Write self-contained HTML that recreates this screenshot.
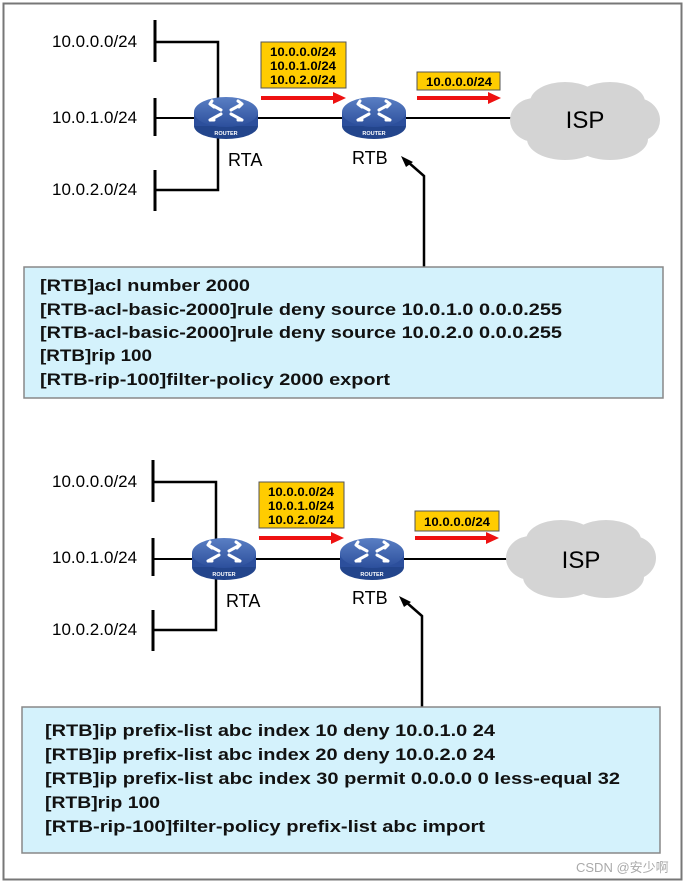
<!DOCTYPE html>
<html><head><meta charset="utf-8"><style>
html,body{margin:0;padding:0;background:#fff;}
svg{display:block;}
text{font-family:"Liberation Sans",Arial,sans-serif;}
</style></head><body>
<svg width="688" height="884" viewBox="0 0 688 884" xmlns="http://www.w3.org/2000/svg">
<defs>
<linearGradient id="rt" x1="0" y1="0" x2="0" y2="1"><stop offset="0" stop-color="#5a7fc4"/><stop offset="1" stop-color="#2c4f9c"/></linearGradient>
<g id="router">
  <ellipse cx="0" cy="8" rx="32" ry="13" fill="#23458c"/>
  <rect x="-32" y="-6" width="64" height="14" fill="#2c4f9c"/>
  <ellipse cx="0" cy="-6" rx="32" ry="15" fill="url(#rt)"/>
  <g stroke="#fff" stroke-width="3" fill="none" stroke-linecap="round">
    <path d="M-16,-14 L-5,-8 M-16,-14 L-14,-17 M-16,-14 L-12,-11"/>
    <path d="M16,-14 L5,-8 M16,-14 L12,-17 M16,-14 L13,-11"/>
    <path d="M-16,2 L-5,-4 M-16,2 L-12,2"/>
    <path d="M16,2 L5,-4 M16,2 L12,2"/>
  </g>
  <text x="0" y="17" font-size="5.5" font-weight="bold" fill="#fff" text-anchor="middle">ROUTER</text>
</g>
<g id="cloud">
  <g fill="#d4d4d4">
    <ellipse cx="-50" cy="0" rx="25" ry="22"/>
    <ellipse cx="-20" cy="-18" rx="35" ry="20"/>
    <ellipse cx="25" cy="-18" rx="35" ry="20"/>
    <ellipse cx="51" cy="0" rx="24" ry="22"/>
    <ellipse cx="25" cy="19" rx="38" ry="21"/>
    <ellipse cx="-20" cy="19" rx="38" ry="21"/>
    <rect x="-55" y="-20" width="108" height="40"/>
  </g>
</g>
</defs>
<rect x="3.5" y="3.5" width="678" height="876" fill="#fff" stroke="#777" stroke-width="2"/>

<!-- TOP -->
<g>
  <g stroke="#000" stroke-width="3" fill="none">
    <line x1="155" y1="20" x2="155" y2="62"/>
    <line x1="155" y1="98" x2="155" y2="136"/>
    <line x1="155" y1="170" x2="155" y2="211"/>
    <polyline points="155,42 218,42 218,190 155,190" stroke-width="2.5"/>
  </g>
  <line x1="155" y1="118" x2="520" y2="118" stroke="#000" stroke-width="2"/>
  <text x="52" y="47" font-size="17">10.0.0.0/24</text>
  <text x="52" y="123" font-size="17">10.0.1.0/24</text>
  <text x="52" y="195" font-size="17">10.0.2.0/24</text>
  <use href="#router" x="226" y="118"/>
  <use href="#router" x="374" y="118"/>
  <text x="228" y="166" font-size="18">RTA</text>
  <text x="352" y="164" font-size="18">RTB</text>
  <use href="#cloud" x="585" y="120"/>
  <text x="585" y="128" font-size="24" text-anchor="middle">ISP</text>
  <rect x="261" y="42" width="85" height="46" fill="#ffcc00" stroke="#555" stroke-width="1"/>
  <text x="270" y="56" font-size="11.5" font-weight="bold" textLength="66" lengthAdjust="spacingAndGlyphs">10.0.0.0/24</text>
  <text x="270" y="70" font-size="11.5" font-weight="bold" textLength="66" lengthAdjust="spacingAndGlyphs">10.0.1.0/24</text>
  <text x="270" y="84" font-size="11.5" font-weight="bold" textLength="66" lengthAdjust="spacingAndGlyphs">10.0.2.0/24</text>
  <rect x="417" y="72" width="83" height="18" fill="#ffcc00" stroke="#555" stroke-width="1"/>
  <text x="426" y="86" font-size="11.5" font-weight="bold" textLength="66" lengthAdjust="spacingAndGlyphs">10.0.0.0/24</text>
  <line x1="261" y1="98" x2="335" y2="98" stroke="#ee1111" stroke-width="4"/>
  <polygon points="333,92 346,98 333,104" fill="#ee1111"/>
  <line x1="417" y1="98" x2="490" y2="98" stroke="#ee1111" stroke-width="4"/>
  <polygon points="488,92 501,98 488,104" fill="#ee1111"/>
  <polyline points="424,267 424,176 408,162" stroke="#000" stroke-width="2.5" fill="none"/>
  <polygon points="401,156 413,162 406,167" fill="#000"/>
  <rect x="24" y="267" width="639" height="131" fill="#d4f2fc" stroke="#888" stroke-width="1.5"/>
  <g font-size="17" font-weight="bold" fill="#111">
    <text x="40" y="291" textLength="210" lengthAdjust="spacingAndGlyphs">[RTB]acl number 2000</text>
    <text x="40" y="315" textLength="522" lengthAdjust="spacingAndGlyphs">[RTB-acl-basic-2000]rule deny source 10.0.1.0 0.0.0.255</text>
    <text x="40" y="338" textLength="522" lengthAdjust="spacingAndGlyphs">[RTB-acl-basic-2000]rule deny source 10.0.2.0 0.0.0.255</text>
    <text x="40" y="361" textLength="112" lengthAdjust="spacingAndGlyphs">[RTB]rip 100</text>
    <text x="40" y="385" textLength="350" lengthAdjust="spacingAndGlyphs">[RTB-rip-100]filter-policy 2000 export</text>
  </g>
</g>

<!-- BOTTOM -->
<g transform="translate(-2,440)">
  <g stroke="#000" stroke-width="3" fill="none">
    <line x1="155" y1="20" x2="155" y2="62"/>
    <line x1="155" y1="98" x2="155" y2="136"/>
    <line x1="155" y1="170" x2="155" y2="211"/>
    <polyline points="155,42 218,42 218,190 155,190" stroke-width="2.5"/>
  </g>
  <line x1="155" y1="119" x2="520" y2="119" stroke="#000" stroke-width="2"/>
  <text x="54" y="47" font-size="17">10.0.0.0/24</text>
  <text x="54" y="123" font-size="17">10.0.1.0/24</text>
  <text x="54" y="195" font-size="17">10.0.2.0/24</text>
  <use href="#router" x="226" y="119"/>
  <use href="#router" x="374" y="119"/>
  <text x="228" y="167" font-size="18">RTA</text>
  <text x="354" y="164" font-size="18">RTB</text>
  <use href="#cloud" x="583" y="118"/>
  <text x="583" y="128" font-size="24" text-anchor="middle">ISP</text>
  <rect x="261" y="42" width="85" height="46" fill="#ffcc00" stroke="#555" stroke-width="1"/>
  <text x="270" y="56" font-size="11.5" font-weight="bold" textLength="66" lengthAdjust="spacingAndGlyphs">10.0.0.0/24</text>
  <text x="270" y="70" font-size="11.5" font-weight="bold" textLength="66" lengthAdjust="spacingAndGlyphs">10.0.1.0/24</text>
  <text x="270" y="84" font-size="11.5" font-weight="bold" textLength="66" lengthAdjust="spacingAndGlyphs">10.0.2.0/24</text>
  <rect x="417" y="71" width="84" height="20" fill="#ffcc00" stroke="#555" stroke-width="1"/>
  <text x="426" y="86" font-size="11.5" font-weight="bold" textLength="66" lengthAdjust="spacingAndGlyphs">10.0.0.0/24</text>
  <line x1="261" y1="98" x2="335" y2="98" stroke="#ee1111" stroke-width="4"/>
  <polygon points="333,92 346,98 333,104" fill="#ee1111"/>
  <line x1="417" y1="98" x2="490" y2="98" stroke="#ee1111" stroke-width="4"/>
  <polygon points="488,92 501,98 488,104" fill="#ee1111"/>
  <polyline points="424,267 424,176 408,162" stroke="#000" stroke-width="2.5" fill="none"/>
  <polygon points="401,156 413,162 406,167" fill="#000"/>
  <rect x="24" y="267" width="638" height="146" fill="#d4f2fc" stroke="#888" stroke-width="1.5"/>
  <g font-size="17" font-weight="bold" fill="#111">
    <text x="47" y="296" textLength="450" lengthAdjust="spacingAndGlyphs">[RTB]ip prefix-list abc index 10 deny 10.0.1.0 24</text>
    <text x="47" y="320" textLength="450" lengthAdjust="spacingAndGlyphs">[RTB]ip prefix-list abc index 20 deny 10.0.2.0 24</text>
    <text x="47" y="344" textLength="575" lengthAdjust="spacingAndGlyphs">[RTB]ip prefix-list abc index 30 permit 0.0.0.0 0 less-equal 32</text>
    <text x="47" y="368" textLength="115" lengthAdjust="spacingAndGlyphs">[RTB]rip 100</text>
    <text x="47" y="392" textLength="440" lengthAdjust="spacingAndGlyphs">[RTB-rip-100]filter-policy prefix-list abc import</text>
  </g>
</g>
<text x="576" y="872" font-size="13" fill="#aaa" font-family="'Liberation Sans','Noto Sans CJK SC',sans-serif">CSDN @安少啊</text>
</svg>
</body></html>
